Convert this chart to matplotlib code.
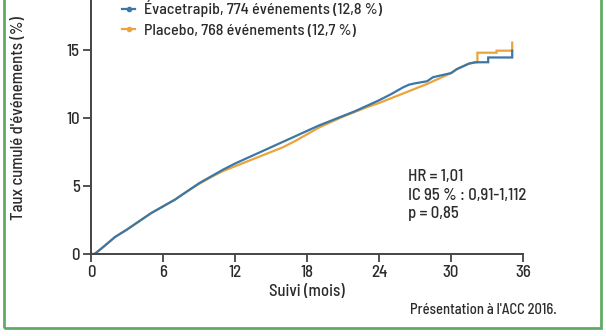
import matplotlib
matplotlib.use("Agg")
import matplotlib.pyplot as plt
from matplotlib.patches import Rectangle
from matplotlib.lines import Line2D

plt.rcParams['font.family'] = ['Barlow Semi Condensed', 'DejaVu Sans']
plt.rcParams['font.weight'] = 'medium'

# Data (months, cumulative event rate %)
evac_months = [0, 0.3, 1, 2, 3, 4, 5, 6, 7, 8, 9, 10, 11, 12, 13, 14, 15, 16, 17, 18,
               19, 20, 21, 22, 23, 24, 25, 26, 26.5, 27, 28, 28.5, 29, 29.5, 30, 30.5,
               31, 31.5, 32, 33.1, 33.1, 35.1, 35.1]
evac_rate = [0, 0, 0.5, 1.25, 1.8, 2.4, 3.0, 3.5, 4.0, 4.6, 5.2, 5.7, 6.2, 6.65, 7.05,
             7.45, 7.85, 8.25, 8.65, 9.05, 9.45, 9.8, 10.15, 10.5, 10.9, 11.3, 11.75,
             12.25, 12.45, 12.55, 12.7, 13.0, 13.1, 13.2, 13.3, 13.6, 13.8, 14.0, 14.1,
             14.1, 14.45, 14.45, 14.95]

plac_months = [0, 0.3, 1, 2, 3, 4, 5, 6, 7, 8, 9, 10, 11, 12, 13, 14, 15, 16, 17, 18,
               19, 20, 21, 22, 23, 24, 25, 26, 27, 28, 29, 30, 30.5, 31, 31.5, 32.2,
               32.2, 33.8, 33.8, 35.1, 35.1]
plac_rate = [0, 0, 0.5, 1.25, 1.8, 2.4, 3.0, 3.5, 4.0, 4.6, 5.15, 5.65, 6.1, 6.45, 6.8,
             7.15, 7.5, 7.85, 8.3, 8.8, 9.3, 9.7, 10.1, 10.45, 10.8, 11.1, 11.45, 11.8,
             12.15, 12.5, 12.9, 13.3, 13.6, 13.8, 14.0, 14.1, 14.8, 14.8, 14.95, 14.95,
             15.55]

x_ticks = [0, 6, 12, 18, 24, 30, 36]
y_ticks = [0, 5, 10, 15]
labels = ["Évacetrapib, 774 événements (12,8 %)", "Placebo, 768 événements (12,7 %)"]
stats_text = "HR = 1,01\nIC 95 % : 0,91-1,112\np = 0,85"

blue = '#3b77a7'
orange = '#eaa43a'
txt = '#2b2b2b'

W, H = 606, 336
fig = plt.figure(figsize=(W / 100, H / 100), dpi=100)
fig.patch.set_facecolor('white')

ax = fig.add_axes([91 / W, 1 - 254 / H, (523 - 91) / W, 254 / H])
ax.plot(plac_months, plac_rate, color=orange, lw=1.6, solid_joinstyle='miter')
ax.plot(evac_months, evac_rate, color=blue, lw=1.6, solid_joinstyle='miter')

ax.set_xlim(0, 36)
ax.set_ylim(0, 254 / 13.6)
ax.set_xticks(x_ticks)
ax.set_yticks(y_ticks)
for s in ['top', 'right']:
    ax.spines[s].set_visible(False)
for s in ['left', 'bottom']:
    ax.spines[s].set_color('#444444')
    ax.spines[s].set_linewidth(1.4)
ax.tick_params(direction='out', length=6, width=1.3, color='#444444',
               labelsize=12, labelcolor=txt, pad=2)
for lab in ax.get_xticklabels() + ax.get_yticklabels():
    lab.set_fontweight('medium')
ax.set_xlabel("Suivi (mois)", fontsize=12, color=txt, fontweight='medium')
ax.xaxis.set_label_coords(0.5, -(284 - 254) / 254)
ax.set_ylabel("Taux cumulé d'événements (%)", fontsize=12, color=txt, va='center',
              fontweight='medium')
ax.yaxis.set_label_coords((18 - 91) / 432, 1 - 118 / 254)
ax.patch.set_alpha(0)

ax.text(408 / W, 1 - 169 / H, stats_text, transform=fig.transFigure, fontsize=12,
        color=txt, va='top', ha='left', linespacing=1.3)

handles = [Line2D([], [], color=blue, lw=1.6, marker='o', markersize=3),
           Line2D([], [], color=orange, lw=1.6, marker='o', markersize=3)]
fig.legend(handles, labels, loc='upper left', bbox_to_anchor=(119 / W, 1 + 3 / H),
           frameon=False, fontsize=11.5, handlelength=0.8, handletextpad=0.55,
           labelspacing=0.4, labelcolor=txt, borderaxespad=0, borderpad=0.2)

fig.text(557 / W, 1 - 310 / H, "Présentation à l'ACC 2016.", fontsize=10.5,
         color=txt, ha='right', va='center')

fig.patches.append(Rectangle((4 / W, 1 - 328 / H), (601 - 4) / W, 1.2,
                             transform=fig.transFigure, fill=False,
                             edgecolor='#5fab66', lw=2, clip_on=False))

fig.savefig("out.png", dpi=100, facecolor='white')
